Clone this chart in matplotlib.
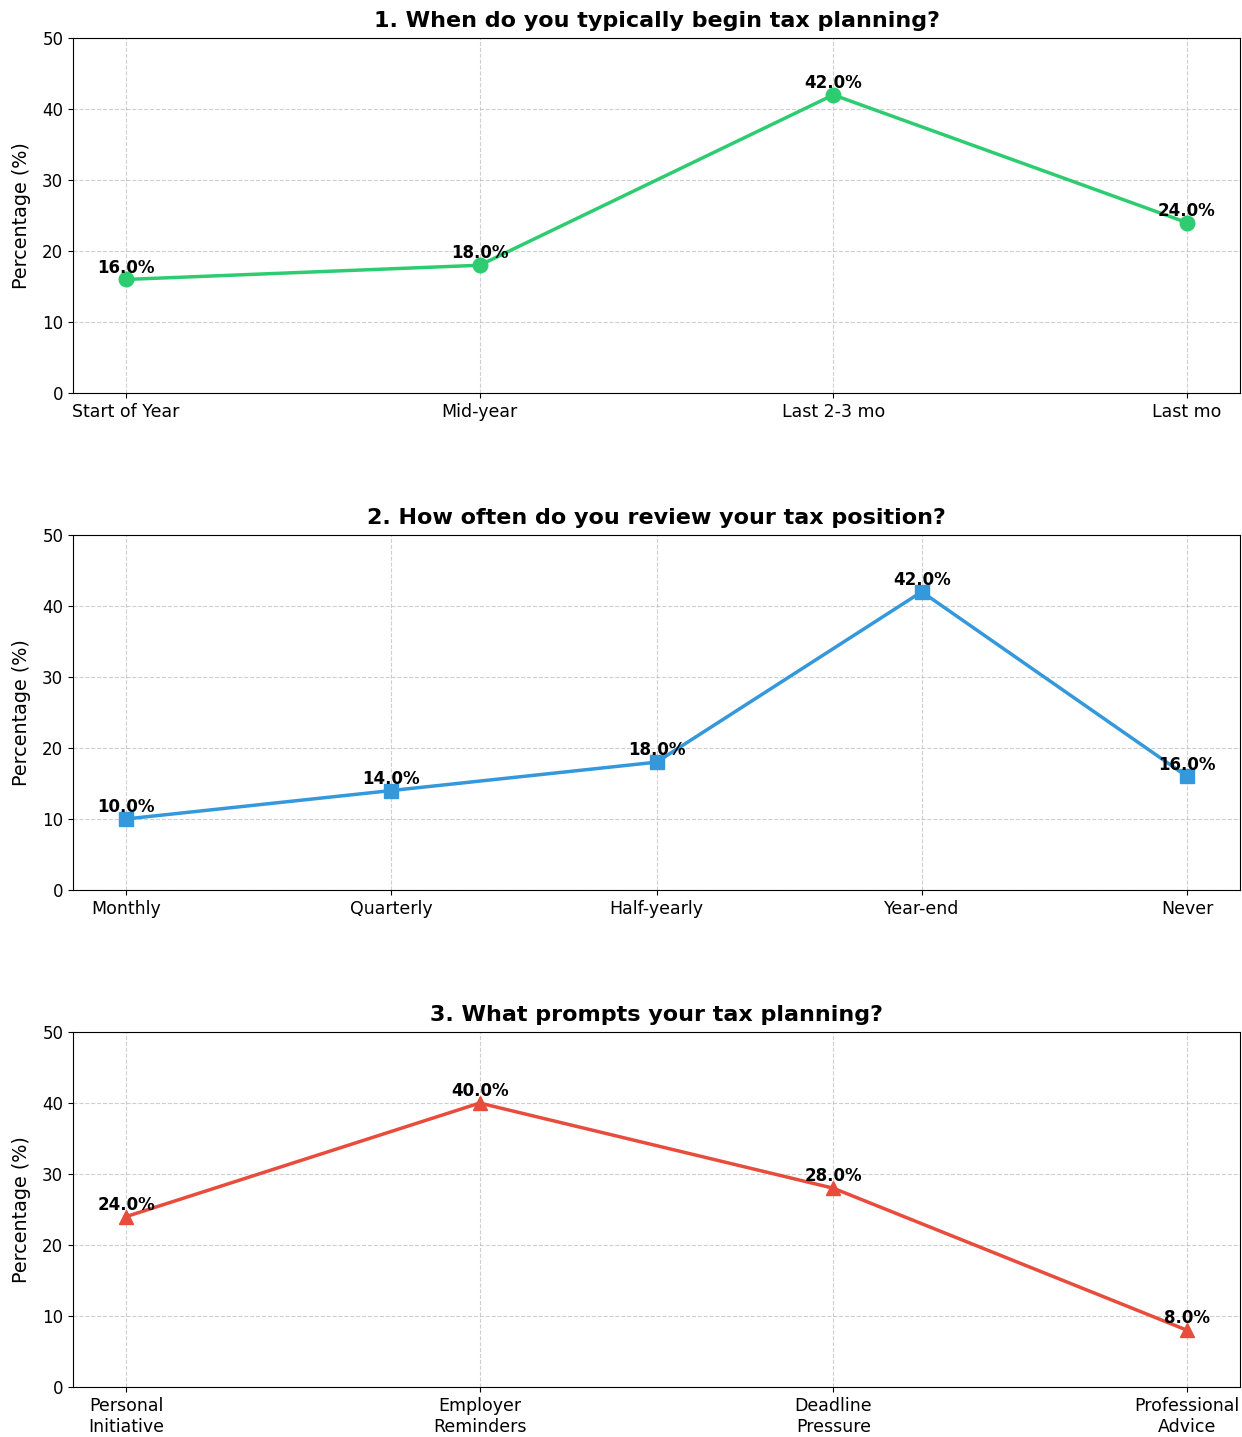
import matplotlib
matplotlib.use('Agg')
import matplotlib.pyplot as plt

# Survey data
q1_labels = ['Start of Year', 'Mid-year', 'Last 2-3 mo', 'Last mo']
q1_values = [16.0, 18.0, 42.0, 24.0]

q2_labels = ['Monthly', 'Quarterly', 'Half-yearly', 'Year-end', 'Never']
q2_values = [10.0, 14.0, 18.0, 42.0, 16.0]

q3_labels = ['Personal\nInitiative', 'Employer\nReminders', 'Deadline\nPressure', 'Professional\nAdvice']
q3_values = [24.0, 40.0, 28.0, 8.0]

titles = ['1. When do you typically begin tax planning?',
          '2. How often do you review your tax position?',
          '3. What prompts your tax planning?']
colors = ['#2ecc71', '#3498db', '#e74c3c']
markers = ['o', 's', '^']

fig = plt.figure(figsize=(12.42, 14.37), dpi=100)
bottoms = [0.7265, 0.3807, 0.0348]
axes = [fig.add_axes([0.0588, b, 0.9396, 0.247]) for b in bottoms]

data = [(q1_labels, q1_values), (q2_labels, q2_values), (q3_labels, q3_values)]

for ax, (labels, values), title, c, m in zip(axes, data, titles, colors, markers):
    x = range(len(labels))
    ax.plot(x, values, color=c, marker=m, linewidth=2.5, markersize=10.5)
    for xi, v in zip(x, values):
        ax.annotate(f'{v:.1f}%', (xi, v), textcoords='offset points', xytext=(0, 2),
                    ha='center', va='bottom', fontsize=12, fontweight='bold')
    ax.set_xticks(list(x))
    ax.set_xticklabels(labels, fontsize=12.5)
    ax.set_ylim(0, 50)
    ax.tick_params(axis='y', labelsize=12)
    ax.set_ylabel('Percentage (%)', fontsize=13.8, labelpad=8)
    ax.set_title(title, fontsize=16, fontweight='bold', pad=8)
    ax.grid(True, linestyle='--', alpha=0.6)

fig.savefig('out.png', dpi=100)
